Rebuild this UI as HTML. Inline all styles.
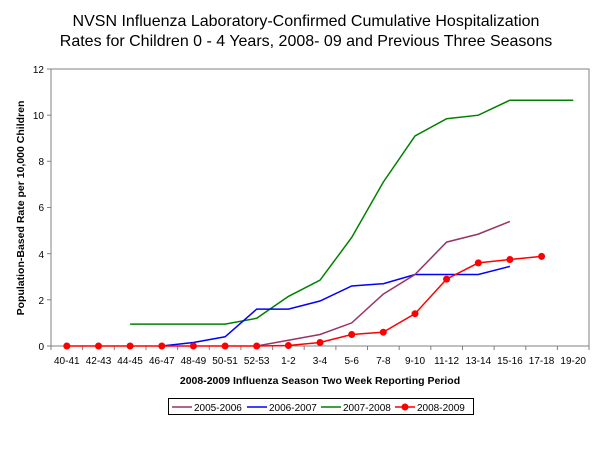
<!DOCTYPE html>
<html><head><meta charset="utf-8"><style>
body{margin:0;background:#fff;}
svg{display:block;font-family:"Liberation Sans",Arial,sans-serif;}
</style></head><body>
<svg width="600" height="450" viewBox="0 0 600 450" xmlns="http://www.w3.org/2000/svg">
<rect width="600" height="450" fill="#fff"/>
<text x="306" y="26" font-size="16" text-anchor="middle" fill="#000">NVSN Influenza Laboratory-Confirmed Cumulative Hospitalization</text>
<text x="306" y="46" font-size="16" text-anchor="middle" fill="#000">Rates for Children 0 - 4 Years, 2008- 09 and Previous Three Seasons</text>
<rect x="51" y="69" width="538" height="277" fill="none" stroke="#808080" stroke-width="1"/>
<g stroke="#808080" stroke-width="1">
<line x1="47" y1="346" x2="51" y2="346"/><line x1="47" y1="299.8" x2="51" y2="299.8"/><line x1="47" y1="253.7" x2="51" y2="253.7"/><line x1="47" y1="207.5" x2="51" y2="207.5"/><line x1="47" y1="161.3" x2="51" y2="161.3"/><line x1="47" y1="115.2" x2="51" y2="115.2"/><line x1="47" y1="69" x2="51" y2="69"/>
<line x1="51" y1="346" x2="51" y2="350"/><line x1="82.6" y1="346" x2="82.6" y2="350"/><line x1="114.3" y1="346" x2="114.3" y2="350"/><line x1="146" y1="346" x2="146" y2="350"/><line x1="177.6" y1="346" x2="177.6" y2="350"/><line x1="209.3" y1="346" x2="209.3" y2="350"/><line x1="240.9" y1="346" x2="240.9" y2="350"/><line x1="272.6" y1="346" x2="272.6" y2="350"/><line x1="304.2" y1="346" x2="304.2" y2="350"/><line x1="335.9" y1="346" x2="335.9" y2="350"/><line x1="367.5" y1="346" x2="367.5" y2="350"/><line x1="399.2" y1="346" x2="399.2" y2="350"/><line x1="430.8" y1="346" x2="430.8" y2="350"/><line x1="462.5" y1="346" x2="462.5" y2="350"/><line x1="494.1" y1="346" x2="494.1" y2="350"/><line x1="525.8" y1="346" x2="525.8" y2="350"/><line x1="557.4" y1="346" x2="557.4" y2="350"/><line x1="589" y1="346" x2="589" y2="350"/>
</g>
<g font-size="10" fill="#000" text-anchor="end">
<text x="44" y="350">0</text><text x="44" y="304">2</text><text x="44" y="258">4</text><text x="44" y="211">6</text><text x="44" y="165">8</text><text x="44" y="119">10</text><text x="44" y="73">12</text>
</g>
<g font-size="10" fill="#000" text-anchor="middle">
<text x="66.8" y="364">40-41</text><text x="98.5" y="364">42-43</text><text x="130.1" y="364">44-45</text><text x="161.8" y="364">46-47</text><text x="193.4" y="364">48-49</text><text x="225.1" y="364">50-51</text><text x="256.7" y="364">52-53</text><text x="288.4" y="364">1-2</text><text x="320" y="364">3-4</text><text x="351.7" y="364">5-6</text><text x="383.3" y="364">7-8</text><text x="415" y="364">9-10</text><text x="446.6" y="364">11-12</text><text x="478.3" y="364">13-14</text><text x="509.9" y="364">15-16</text><text x="541.6" y="364">17-18</text><text x="573.2" y="364">19-20</text>
</g>
<text x="320" y="384" font-size="10.5" font-weight="bold" text-anchor="middle">2008-2009 Influenza Season Two Week Reporting Period</text>
<text transform="translate(24,208) rotate(-90)" font-size="10.5" font-weight="bold" text-anchor="middle">Population-Based Rate per 10,000 Children</text>
<g fill="none" stroke-width="1.5">
<polyline stroke="#008000" points="130.1,324.1 161.8,324.1 193.4,324.1 225.1,324.1 256.7,318.3 288.4,296.4 320,280.2 351.7,237.5 383.3,182.1 415,136 446.6,118.7 478.3,115.2 509.9,100.2 541.6,100.2 573.2,100.2"/>
<polyline stroke="#0000ff" points="161.8,346 193.4,342.5 225.1,336.8 256.7,309.1 288.4,309.1 320,301 351.7,286 383.3,283.7 415,274.5 446.6,274.5 478.3,274.5 509.9,266.4"/>
<polyline stroke="#993366" points="256.7,346 288.4,340.2 320,334.5 351.7,322.9 383.3,294.1 415,274.5 446.6,242.1 478.3,234.1 509.9,221.4"/>
<polyline stroke="#ff0000" points="66.8,346 98.5,346 130.1,346 161.8,346 193.4,346 225.1,346 256.7,346 288.4,345.5 320,342.5 351.7,334.5 383.3,332.2 415,313.7 446.6,279.1 478.3,262.9 509.9,259.5 541.6,256.4"/>
</g>
<g fill="#ff0000">
<circle cx="66.8" cy="346" r="3.5"/><circle cx="98.5" cy="346" r="3.5"/><circle cx="130.1" cy="346" r="3.5"/><circle cx="161.8" cy="346" r="3.5"/><circle cx="193.4" cy="346" r="3.5"/><circle cx="225.1" cy="346" r="3.5"/><circle cx="256.7" cy="346" r="3.5"/><circle cx="288.4" cy="345.5" r="3.5"/><circle cx="320" cy="342.5" r="3.5"/><circle cx="351.7" cy="334.5" r="3.5"/><circle cx="383.3" cy="332.2" r="3.5"/><circle cx="415" cy="313.7" r="3.5"/><circle cx="446.6" cy="279.1" r="3.5"/><circle cx="478.3" cy="262.9" r="3.5"/><circle cx="509.9" cy="259.5" r="3.5"/><circle cx="541.6" cy="256.4" r="3.5"/>
</g>
<rect x="168.5" y="398.5" width="305" height="16" fill="#fff" stroke="#000" stroke-width="1"/>
<g font-size="10" fill="#000">
<line x1="172" y1="407" x2="192" y2="407" stroke="#993366" stroke-width="1.5"/><text x="194" y="411">2005-2006</text>
<line x1="247" y1="407" x2="267" y2="407" stroke="#0000ff" stroke-width="1.5"/><text x="269" y="411">2006-2007</text>
<line x1="321" y1="407" x2="341" y2="407" stroke="#008000" stroke-width="1.5"/><text x="343" y="411">2007-2008</text>
<line x1="395" y1="407" x2="415" y2="407" stroke="#ff0000" stroke-width="1.5"/><circle cx="405" cy="407" r="3.5" fill="#ff0000"/><text x="417" y="411">2008-2009</text>
</g>
</svg>
</body></html>
